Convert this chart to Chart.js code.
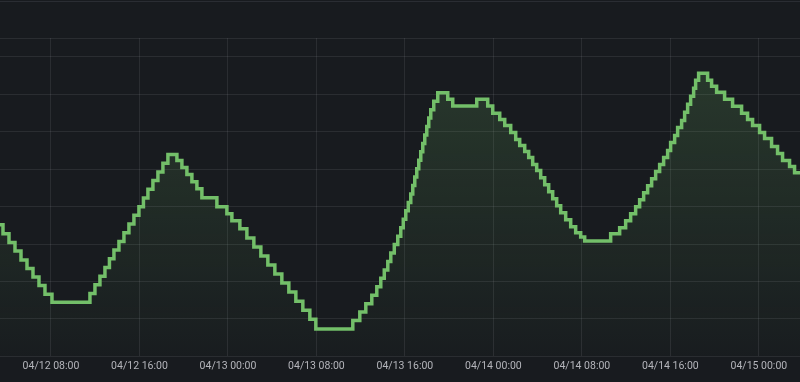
<!DOCTYPE html>
<html>
<head>
<meta charset="utf-8">
<script src="https://cdn.jsdelivr.net/npm/chart.js@4.4.1/dist/chart.umd.min.js"></script>
<style>
  html, body { margin: 0; padding: 0; background: #181b1f; }
  #wrap { position: relative; width: 800px; height: 382px; }
  #topline { position: absolute; left: 0; top: 1px; width: 800px; height: 1px; background: #2a2d33; }
  canvas { position: absolute; left: 0; top: 0; }
</style>
</head>
<body>
<div id="wrap">
  <canvas id="chart" width="800" height="382"></canvas>
  <div id="topline"></div>
</div>
<script>
// hours since 04/12 00:00 where the value changes
const stepHours = [
  3.121, 3.663, 4.205, 4.747, 5.290, 5.832, 6.374, 6.916, 7.458, 8.091,
  11.524, 11.976, 12.428, 12.880, 13.286, 13.693, 14.145, 14.597, 15.048, 15.500,
  15.952, 16.359, 16.765, 17.217, 17.669, 18.121, 18.572,
  19.386, 19.838, 20.289, 20.741, 21.193, 21.645, 23.000, 23.904, 24.356, 25.078,
  25.711, 26.343, 26.976, 27.608, 28.241, 28.873, 29.506, 30.139, 30.771, 31.404, 31.946,
  35.289, 35.922, 36.464, 37.006, 37.458, 37.819, 38.135, 38.452, 38.723, 39.039,
  39.355, 39.626, 39.852, 40.078, 40.304, 40.530, 40.711, 40.891, 41.072, 41.253,
  41.434, 41.615, 41.795, 41.976, 42.157, 42.337, 42.608, 42.970,
  43.873, 44.325, 46.494, 47.486,
  47.940, 48.572, 49.024, 49.566, 50.018, 50.379, 50.831, 51.192, 51.553, 51.915,
  52.276, 52.638, 52.999, 53.361, 53.722, 54.084, 54.536, 54.988, 55.439, 55.891, 56.253,
  58.602, 59.415, 59.957, 60.409, 60.861, 61.222, 61.584, 61.945, 62.307, 62.668,
  63.030, 63.391, 63.752, 64.023, 64.385, 64.656, 65.018, 65.289, 65.560, 65.831,
  66.102, 66.283, 66.554,
  67.367, 67.728, 68.182, 68.903, 69.626, 70.439, 70.981, 71.433, 72.066, 72.517,
  73.150, 73.692, 74.144, 74.776, 75.228, 75.861
];

// value held from each of those times on
const stepValues = [
  35.12, 32.71, 30.43, 28.15, 25.74, 23.46, 21.18, 18.90, 16.62, 14.48,
  16.78, 19.12, 21.42, 23.75, 26.06, 28.39, 30.70, 33.03, 35.34, 37.67,
  39.97, 42.31, 44.61, 46.94, 49.25, 51.58, 53.89,
  52.28, 50.40, 48.53, 46.65, 44.77, 42.36, 39.95, 38.07, 36.19, 34.05,
  31.64, 29.22, 26.81, 24.40, 21.98, 19.57, 17.16, 14.75, 12.33, 9.92, 7.32,
  9.57, 11.82, 14.08, 16.33, 18.58, 20.83, 23.08, 25.34, 27.59, 29.84,
  32.09, 34.34, 36.60, 38.85, 41.10, 43.35, 45.60, 47.86, 50.11, 52.36,
  54.61, 56.86, 59.12, 61.37, 63.62, 65.87, 68.12, 70.38,
  68.63, 66.84, 68.63, 66.84,
  64.88, 63.27, 61.66, 59.79, 57.91, 56.30, 54.69, 53.08, 51.21, 49.60,
  47.72, 45.85, 43.97, 42.09, 40.22, 38.34, 36.46, 34.58, 32.98, 31.90, 30.83,
  32.71, 34.32, 36.19, 38.07, 39.95, 41.82, 43.70, 45.58, 47.45, 49.33,
  51.21, 53.08, 54.96, 57.11, 58.98, 61.13, 63.00, 65.15, 67.29, 69.44,
  71.58, 73.73, 75.60,
  73.73, 72.12, 70.51, 68.63, 66.76, 64.88, 63.27, 61.66, 59.79, 58.18,
  56.03, 54.16, 52.28, 50.67, 49.06, 49.06
];

// x-axis ticks, hours since 04/12 00:00
const tickHours = [8, 16, 24, 32, 40, 48, 56, 64, 72];
const viewStart = 3.392;
const viewEnd = 75.72;

const lineColor = "#73bf69";
const gridColor = "rgba(204, 204, 220, 0.1)";

function tickLabel(h) {
  const day = 12 + Math.floor(h / 24);
  const hh = h % 24;
  return "04/" + day + " " + String(hh).padStart(2, "0") + ":00";
}

const points = stepHours.map((h, i) => ({ x: h, y: stepValues[i] }));

const ctx = document.getElementById("chart").getContext("2d");
new Chart(ctx, {
  type: "line",
  data: {
    datasets: [
      {
        data: points,
        stepped: true,
        borderColor: lineColor,
        borderWidth: 3.5,
        pointRadius: 0,
        fill: "start",
        backgroundColor: (context) => {
          const area = context.chart.chartArea;
          if (!area) return "rgba(115,191,105,0.1)";
          const g = context.chart.ctx.createLinearGradient(0, area.top, 0, area.bottom);
          g.addColorStop(0, "rgba(115,191,105,0.2)");
          g.addColorStop(1, "rgba(115,191,105,0.01)");
          return g;
        },
      },
    ],
  },
  options: {
    responsive: false,
    animation: false,
    layout: { padding: { top: 38, bottom: 5, left: 0, right: 0 } },
    plugins: { legend: { display: false }, tooltip: { enabled: false } },
    scales: {
      x: {
        type: "linear",
        min: viewStart,
        max: viewEnd,
        afterBuildTicks: (scale) => {
          scale.ticks = tickHours.map((v) => ({ value: v }));
        },
        grid: { color: gridColor, drawTicks: false },
        border: { display: false },
        ticks: {
          color: "#b4b5bb",
          font: { family: "Roboto", size: 10.5 },
          padding: 4,
          maxRotation: 0,
          autoSkip: false,
          callback: (v) => tickLabel(v),
        },
      },
      y: {
        min: 0,
        max: 85,
        ticks: { display: false, stepSize: 10 },
        grid: { color: gridColor, drawTicks: false },
        border: { display: false },
      },
    },
  },
});
</script>
</body>
</html>
